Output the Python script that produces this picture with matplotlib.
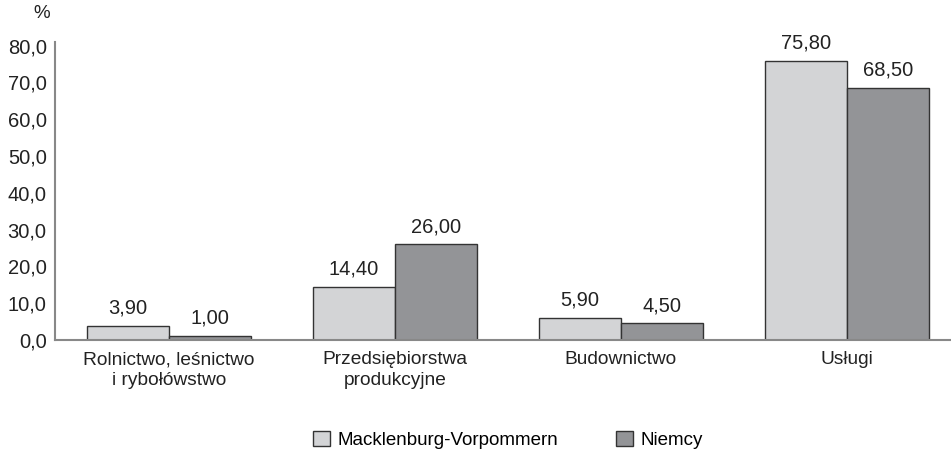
import matplotlib
matplotlib.use("Agg")
import matplotlib.pyplot as plt
import numpy as np

categories = ["Rolnictwo, leśnictwo\ni rybołówstwo", "Przedsiębiorstwa\nprodukcyjne", "Budownictwo", "Usługi"]
series_names = ["Macklenburg-Vorpommern", "Niemcy"]
mv_values = [3.9, 14.4, 5.9, 75.8]
de_values = [1.0, 26.0, 4.5, 68.5]
yticks = [0, 10, 20, 30, 40, 50, 60, 70, 80]

plt.rcParams['font.family'] = ['Liberation Sans', 'DejaVu Sans']

fig = plt.figure(figsize=(9.51, 4.49), dpi=100)
ax = fig.add_axes([55/951, 1-340/449, 1-55/951, (340-42)/449])

x = np.arange(len(categories))
w = 0.363
c1, c2 = "#d3d4d6", "#939497"
b1 = ax.bar(x - w/2, mv_values, w, color=c1, edgecolor="#333333", linewidth=1, label=series_names[0])
b2 = ax.bar(x + w/2, de_values, w, color=c2, edgecolor="#333333", linewidth=1, label=series_names[1])

def fmt(v):
    return f"{v:.2f}".replace(".", ",")

for bars, vals in ((b1, mv_values), (b2, de_values)):
    for r, v in zip(bars, vals):
        ax.annotate(fmt(v), (r.get_x() + r.get_width()/2, v), xytext=(0, 6),
                    textcoords="offset points", ha="center", va="bottom", fontsize=14.5, color="#222222")

ax.set_xlim(-0.504, 3.46)
ax.set_ylim(0, 81)
ax.set_yticks(yticks)
ax.set_yticklabels([f"{t:.1f}".replace(".", ",") for t in yticks], fontsize=14.5, color="#222222")
ax.set_xticks(x)
ax.set_xticklabels(categories, fontsize=13.8, color="#222222", linespacing=1.28)
ax.tick_params(axis='both', length=0)
ax.tick_params(axis='x', pad=8)
ax.tick_params(axis='y', pad=6)
for s in ("top", "right"):
    ax.spines[s].set_visible(False)
for s in ("left", "bottom"):
    ax.spines[s].set_color("#888888")
    ax.spines[s].set_linewidth(1.5)

fig.text(42/951, 1-13/449, "%", fontsize=13.5, ha="center", va="center", color="#222222")

fig.legend(handles=[b1, b2], labels=series_names, loc="center", bbox_to_anchor=(508/951, 1-440/449),
           ncol=2, frameon=False, fontsize=13.5, handlelength=0.9, handleheight=0.9,
           columnspacing=3.1, handletextpad=0.4)

fig.savefig("out.png", dpi=100)
